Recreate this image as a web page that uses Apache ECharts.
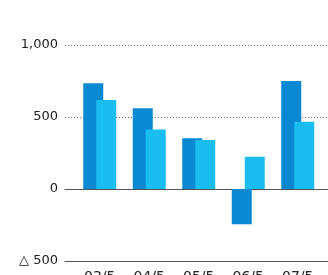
<!DOCTYPE html>
<html>
<head>
<meta charset="utf-8">
<script src="https://cdn.jsdelivr.net/npm/echarts@6/dist/echarts.min.js"></script>
<style>
  html, body { margin: 0; padding: 0; background: #fff; }
  #chart { width: 328px; height: 275px; }
</style>
</head>
<body>
<div id="chart"></div>
<script>
const categories = ['03/5', '04/5', '05/5', '06/5', '07/5'];
const darkValues = [734, 560, 352, -245, 750];
const lightValues = [618, 414, 340, 224, 467];
const yTicks = [-500, 0, 500, 1000];

const chart = echarts.init(document.getElementById('chart'));

function yLabel(v) {
    if (v < 0) return '\u25b3 ' + Math.abs(v);
    return v.toLocaleString('en-US');
}

const yMin = yTicks[0];
const yMax = yTicks[yTicks.length - 1];

chart.setOption({
    animation: false,
    textStyle: { fontFamily: 'DejaVu Sans, sans-serif' },
    grid: [
        // bars
        { left: 75, right: 5.5, top: 45, bottom: 14, outerBoundsMode: 'none', containLabel: false },
        // full-width lines and y labels
        { left: 65, right: 0, top: 45, bottom: 14, outerBoundsMode: 'none', containLabel: false }
    ],
    xAxis: [
        {
            type: 'category',
            gridIndex: 0,
            data: categories,
            axisLine: { show: false, onZero: false },
            axisTick: { show: false },
            axisLabel: { color: '#222', fontSize: 14, margin: 9 }
        },
        {
            type: 'value',
            gridIndex: 1,
            min: 0, max: 1,
            axisLine: { show: true, onZero: true, lineStyle: { color: '#555', width: 1 } },
            axisTick: { show: false },
            axisLabel: { show: false },
            splitLine: { show: false }
        },
        {
            type: 'value',
            gridIndex: 1,
            position: 'bottom',
            min: 0, max: 1,
            axisLine: { show: true, onZero: false, lineStyle: { color: '#555', width: 1 } },
            axisTick: { show: false },
            axisLabel: { show: false },
            splitLine: { show: false }
        }
    ],
    yAxis: [
        {
            type: 'value',
            gridIndex: 0,
            min: yMin, max: yMax, interval: 500,
            show: false
        },
        {
            type: 'value',
            gridIndex: 1,
            min: yMin, max: yMax, interval: 500,
            axisLine: { show: false },
            axisTick: { show: false },
            axisLabel: { color: '#222', fontSize: 13, margin: 7, formatter: yLabel },
            splitLine: {
                show: true,
                lineStyle: { color: '#777', type: [1, 2], width: 1 }
            }
        }
    ],
    series: [
        {
            type: 'bar',
            xAxisIndex: 0,
            yAxisIndex: 0,
            data: darkValues,
            barWidth: 20,
            barGap: '-35%',
            itemStyle: { color: '#0a88d2' }
        },
        {
            type: 'bar',
            xAxisIndex: 0,
            yAxisIndex: 0,
            data: lightValues,
            barWidth: 20,
            barGap: '-35%',
            itemStyle: { color: '#19bdf0' }
        }
    ]
});
</script>
</body>
</html>
